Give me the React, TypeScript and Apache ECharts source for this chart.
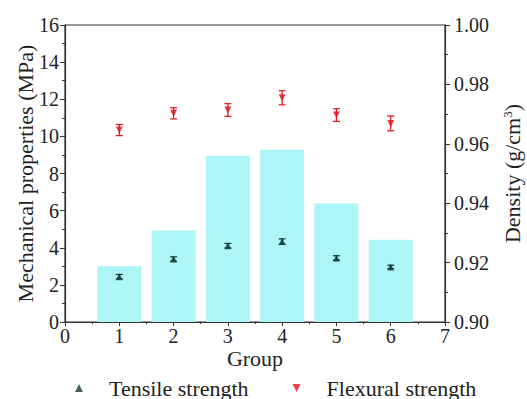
import React, { useEffect, useRef } from "react";
import * as echarts from "echarts";

const groups = [1, 2, 3, 4, 5, 6];
const density = [0.9188, 0.9308, 0.956, 0.958, 0.9399, 0.9277];
const tensile = [2.44, 3.39, 4.11, 4.33, 3.45, 2.96];
const tensileErr = [0.12, 0.12, 0.12, 0.15, 0.12, 0.1];
const flexural = [10.34, 11.24, 11.42, 12.08, 11.15, 10.7];
const flexuralErr = [0.3, 0.3, 0.34, 0.38, 0.34, 0.4];

const FONT = "Liberation Serif";
const AXIS = "#333";
const TEXT = "#222";
const TICK_SIZE = 20;
const NAME_SIZE = 22;

function errorBars(color: string) {
  return (params: any, api: any) => {
    const x = api.value(0);
    const y = api.value(1);
    const e = api.value(2);
    const top = api.coord([x, y + e]);
    const bot = api.coord([x, y - e]);
    const cap = 3.5;
    const style = { stroke: color, lineWidth: 1.2 };
    return {
      type: "group",
      children: [
        { type: "line", shape: { x1: top[0], y1: top[1], x2: bot[0], y2: bot[1] }, style },
        { type: "line", shape: { x1: top[0] - cap, y1: top[1], x2: top[0] + cap, y2: top[1] }, style },
        { type: "line", shape: { x1: bot[0] - cap, y1: bot[1], x2: bot[0] + cap, y2: bot[1] }, style },
      ],
    };
  };
}

export default function App() {
  const ref = useRef<HTMLDivElement>(null);
  useEffect(() => {
    if (!ref.current) return;
    const chart = echarts.init(ref.current, null, { renderer: "svg" });
    const axisLine = { show: true, lineStyle: { color: AXIS, width: 1.2 } };
    const label = { color: TEXT, fontFamily: FONT, fontSize: TICK_SIZE };
    const nameStyle = { color: TEXT, fontFamily: FONT, fontSize: NAME_SIZE };
    chart.setOption({
      animation: false,
      textStyle: { fontFamily: FONT },
      grid: {
        left: 65,
        right: 82,
        top: 25,
        bottom: 77,
        outerBoundsMode: "none",
        containLabel: false,
        show: true,
        borderColor: AXIS,
        borderWidth: 1.2,
        backgroundColor: "transparent",
      },
      legend: {
        bottom: 0,
        left: 75,
        padding: 0,
        itemWidth: 8,
        itemHeight: 8,
        itemGap: 44,
        textStyle: { ...nameStyle, lineHeight: 22, padding: [0, 0, 0, 21] },
        data: [
          { name: "Tensile strength", icon: "triangle", itemStyle: { color: "#103838" } },
          { name: "Flexural strength", icon: "path://M0,0 L10,0 L5,10 Z", itemStyle: { color: "#e0101a" } },
        ],
      },
      xAxis: {
        type: "value",
        min: 0,
        max: 7,
        interval: 1,
        name: "Group",
        nameLocation: "middle",
        nameGap: 27,
        nameMoveOverlap: false,
        nameTextStyle: { ...nameStyle, lineHeight: 18 },
        axisLine,
        axisTick: { show: true, inside: false, length: 4, lineStyle: { color: AXIS } },
        minorTick: { show: true, splitNumber: 2, length: 2, lineStyle: { color: AXIS } },
        splitLine: { show: false },
        axisLabel: { ...label, lineHeight: 14, margin: 7 },
      },
      yAxis: [
        {
          type: "value",
          min: 0,
          max: 16,
          interval: 2,
          position: "left",
          name: "Mechanical properties (MPa)",
          nameLocation: "middle",
          nameRotate: 90,
          nameGap: 29,
          nameMoveOverlap: false,
          nameTextStyle: nameStyle,
          axisLine,
          axisTick: { show: true, length: 5, lineStyle: { color: AXIS } },
          minorTick: { show: true, splitNumber: 2, length: 3, lineStyle: { color: AXIS } },
          splitLine: { show: false },
          axisLabel: { ...label, margin: 6 },
        },
        {
          type: "value",
          min: 0.9,
          max: 1.0,
          interval: 0.02,
          position: "right",
          name: "Density (g/cm{sup|3})",
          nameLocation: "middle",
          nameRotate: 90,
          nameGap: 56,
          nameMoveOverlap: false,
          nameTextStyle: {
            ...nameStyle,
            rich: { sup: { fontSize: 13, verticalAlign: "top", padding: [0, 0, 10, 0], fontFamily: FONT, color: TEXT } },
          },
          axisLine,
          axisTick: { show: true, length: 5, lineStyle: { color: AXIS } },
          minorTick: { show: true, splitNumber: 2, length: 3, lineStyle: { color: AXIS } },
          splitLine: { show: false },
          axisLabel: { ...label, margin: 9, formatter: (v: number) => v.toFixed(2) },
        },
      ],
      series: [
        {
          name: "Density",
          type: "bar",
          yAxisIndex: 1,
          barWidth: 44,
          clip: true,
          itemStyle: { color: "#aef5f8" },
          data: groups.map((g, i) => [g, density[i]]),
          z: 1,
        },
        {
          name: "Tensile err",
          type: "custom",
          renderItem: errorBars("#103838"),
          data: groups.map((g, i) => [g, tensile[i], tensileErr[i]]),
          z: 3,
        },
        {
          name: "Flexural err",
          type: "custom",
          renderItem: errorBars("#e0101a"),
          data: groups.map((g, i) => [g, flexural[i], flexuralErr[i]]),
          z: 3,
        },
        {
          name: "Tensile strength",
          type: "scatter",
          symbol: "triangle",
          symbolSize: 7,
          itemStyle: { color: "#103838" },
          data: groups.map((g, i) => [g, tensile[i]]),
          z: 4,
        },
        {
          name: "Flexural strength",
          type: "scatter",
          symbol: "triangle",
          symbolRotate: 180,
          symbolSize: 7,
          itemStyle: { color: "#e0101a" },
          data: groups.map((g, i) => [g, flexural[i]]),
          z: 4,
        },
      ],
    });
    return () => chart.dispose();
  }, []);
  return (
    <div
      ref={ref}
      style={{ position: "absolute", left: 0, top: 0, width: 527, height: 399, overflow: "visible" }}
    />
  );
}
